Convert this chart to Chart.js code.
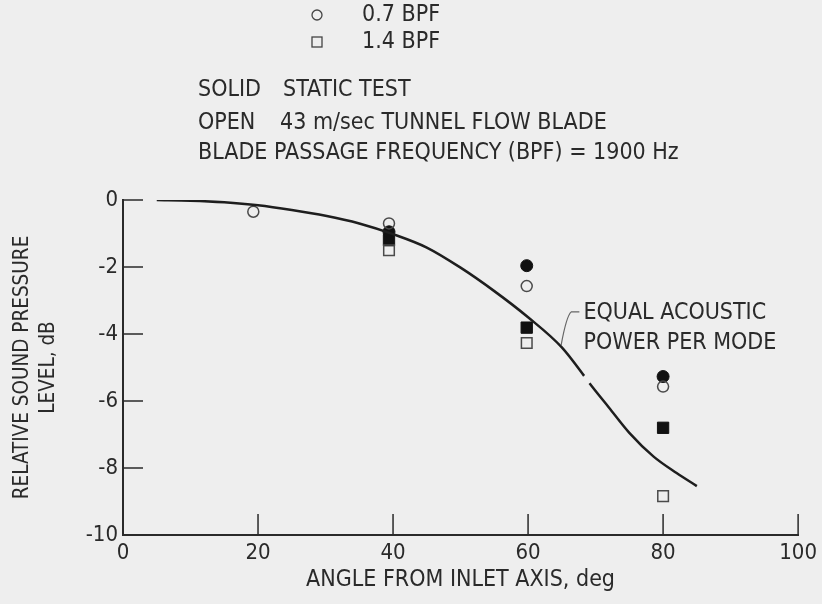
<!DOCTYPE html>
<html>
<head>
<meta charset="utf-8">
<script src="https://cdn.jsdelivr.net/npm/chart.js@4.4.1/dist/chart.umd.min.js"></script>
<style>
  html, body { margin: 0; padding: 0; background: #eeeeee; }
  #wrap { width: 822px; height: 604px; position: relative; }
</style>
</head>
<body>
<div id="wrap"><canvas id="chart" width="822" height="604"></canvas></div>
<script>
// measured points (angle deg, relative SPL dB)
const open07Angles = [19.3, 39.4, 59.8, 80];
const open07Levels = [-0.35, -0.7, -2.57, -5.57];
const solid07Angles = [39.4, 59.8, 80];
const solid07Levels = [-0.95, -1.96, -5.27];
const open14Angles = [39.4, 59.8, 80];
const open14Levels = [-1.5, -4.27, -8.84];
const solid14Angles = [39.4, 59.8, 80];
const solid14Levels = [-1.2, -3.81, -6.8];

// equal acoustic power per mode curve
const curveAngles = [5, 10, 15, 20, 25, 30, 35, 40, 45, 50, 55, 60, 65, 68.3, 69.1, 72, 75, 78.6, 82, 85];
const curveLevels = [0, -0.02, -0.07, -0.16, -0.3, -0.47, -0.7, -1.02, -1.42, -2.02, -2.72, -3.5, -4.4, -5.25, -5.47, -6.2, -6.95, -7.66, -8.15, -8.54];
const curveBreakAt = 68.3;

const xTicks = [0, 20, 40, 60, 80, 100];
const yTicks = [0, -2, -4, -6, -8, -10];

const FONT = "'Liberation Sans Narrow', 'DejaVu Sans Condensed', sans-serif";
const INK = '#2a2a2a';

Chart.defaults.font.family = FONT;
Chart.defaults.color = INK;

function pairs(xs, ys) {
    return xs.map((x, i) => ({ x: x, y: ys[i] }));
}

// header text + legend markers, leader note, inward ticks
const decorations = {
    id: 'decorations',
    afterDraw(chart) {
        const ctx = chart.ctx;
        const xs = chart.scales.x;
        const ys = chart.scales.y;
        ctx.save();

        // inward tick marks
        ctx.strokeStyle = INK;
        ctx.lineWidth = 1.5;
        ctx.beginPath();
        xTicks.slice(1).forEach(v => {
            const px = xs.getPixelForValue(v);
            ctx.moveTo(px, ys.bottom);
            ctx.lineTo(px, ys.bottom - 21);
        });
        yTicks.slice(0, -1).forEach(v => {
            const py = ys.getPixelForValue(v);
            ctx.moveTo(xs.left, py);
            ctx.lineTo(xs.left + 20, py);
        });
        ctx.stroke();

        // legend
        ctx.fillStyle = INK;
        ctx.font = '23px ' + FONT;
        ctx.textBaseline = 'middle';
        ctx.textAlign = 'left';
        ctx.lineWidth = 1.3;
        ctx.strokeStyle = '#444';
        ctx.beginPath();
        ctx.arc(317, 15, 5, 0, Math.PI * 2);
        ctx.stroke();
        ctx.strokeRect(312, 37, 10, 10);
        ctx.fillText('0.7 BPF', 362, 15);
        ctx.fillText('1.4 BPF', 362, 42);

        ctx.fillText('SOLID', 198, 90);
        ctx.fillText('STATIC TEST', 283, 90);
        ctx.fillText('OPEN', 198, 123);
        ctx.fillText('43 m/sec TUNNEL FLOW BLADE', 280, 123);
        ctx.fillText('BLADE PASSAGE FREQUENCY (BPF) = 1900 Hz', 198, 153);

        // curve label with leader
        ctx.fillText('EQUAL ACOUSTIC', xs.getPixelForValue(68.2), ys.getPixelForValue(-3.37));
        ctx.fillText('POWER PER MODE', xs.getPixelForValue(68.2), ys.getPixelForValue(-4.27));
        ctx.strokeStyle = '#666';
        ctx.lineWidth = 1.2;
        ctx.beginPath();
        ctx.moveTo(xs.getPixelForValue(67.6), ys.getPixelForValue(-3.34));
        ctx.lineTo(xs.getPixelForValue(66.4), ys.getPixelForValue(-3.34));
        ctx.quadraticCurveTo(xs.getPixelForValue(65.7), ys.getPixelForValue(-3.45),
                             xs.getPixelForValue(64.9), ys.getPixelForValue(-4.33));
        ctx.stroke();

        ctx.restore();
    }
};

new Chart(document.getElementById('chart'), {
    type: 'scatter',
    data: {
        datasets: [
            {
                label: 'Equal acoustic power per mode',
                type: 'line',
                data: pairs(curveAngles, curveLevels),
                borderColor: '#1e1e1e',
                borderWidth: 2.5,
                pointRadius: 0,
                cubicInterpolationMode: 'monotone',
                segment: {
                    borderColor: c => c.p0.parsed.x === curveBreakAt ? 'rgba(0,0,0,0)' : undefined
                }
            },
            {
                label: '0.7 BPF open',
                data: pairs(open07Angles, open07Levels),
                pointStyle: 'circle',
                pointRadius: 5.5,
                borderWidth: 1.5,
                borderColor: '#4a4a4a',
                backgroundColor: 'rgba(0,0,0,0)'
            },
            {
                label: '1.4 BPF open',
                data: pairs(open14Angles, open14Levels),
                pointStyle: 'rect',
                pointRadius: 7.5,
                borderWidth: 1.5,
                borderColor: '#4a4a4a',
                backgroundColor: 'rgba(0,0,0,0)'
            },
            {
                label: '0.7 BPF solid',
                data: pairs(solid07Angles, solid07Levels),
                pointStyle: 'circle',
                pointRadius: 6,
                borderWidth: 1,
                borderColor: '#111',
                backgroundColor: '#111'
            },
            {
                label: '1.4 BPF solid',
                data: pairs(solid14Angles, solid14Levels),
                pointStyle: 'rect',
                pointRadius: 8,
                borderWidth: 1,
                borderColor: '#111',
                backgroundColor: '#111'
            }
        ]
    },
    options: {
        responsive: false,
        animation: false,
        layout: { padding: { top: 200, right: 19, left: 0, bottom: 0 } },
        plugins: {
            legend: { display: false },
            tooltip: { enabled: false }
        },
        scales: {
            x: {
                type: 'linear',
                min: 0,
                max: 100,
                afterFit: s => { s.height = 69; },
                afterBuildTicks: s => { s.ticks = xTicks.map(v => ({ value: v })); },
                grid: { display: false, drawTicks: false },
                border: { display: true, color: INK, width: 2 },
                ticks: { padding: 5, font: { size: 22 }, color: INK, maxRotation: 0 },
                title: {
                    display: true,
                    text: 'ANGLE FROM INLET AXIS, deg',
                    font: { size: 23 },
                    color: INK,
                    padding: { top: 0, bottom: 10 }
                }
            },
            y: {
                type: 'linear',
                min: -10,
                max: 0,
                afterFit: s => { s.width = 123; },
                afterBuildTicks: s => { s.ticks = yTicks.map(v => ({ value: v })); },
                grid: { display: false, drawTicks: false },
                border: { display: true, color: INK, width: 2 },
                ticks: { padding: 5, font: { size: 22 }, color: INK },
                title: {
                    display: true,
                    text: ['RELATIVE SOUND PRESSURE', 'LEVEL, dB'],
                    font: { size: 20.5, lineHeight: 1.3 },
                    color: INK,
                    padding: { top: 9, bottom: 0 }
                }
            }
        }
    },
    plugins: [decorations]
});
</script>
</body>
</html>
